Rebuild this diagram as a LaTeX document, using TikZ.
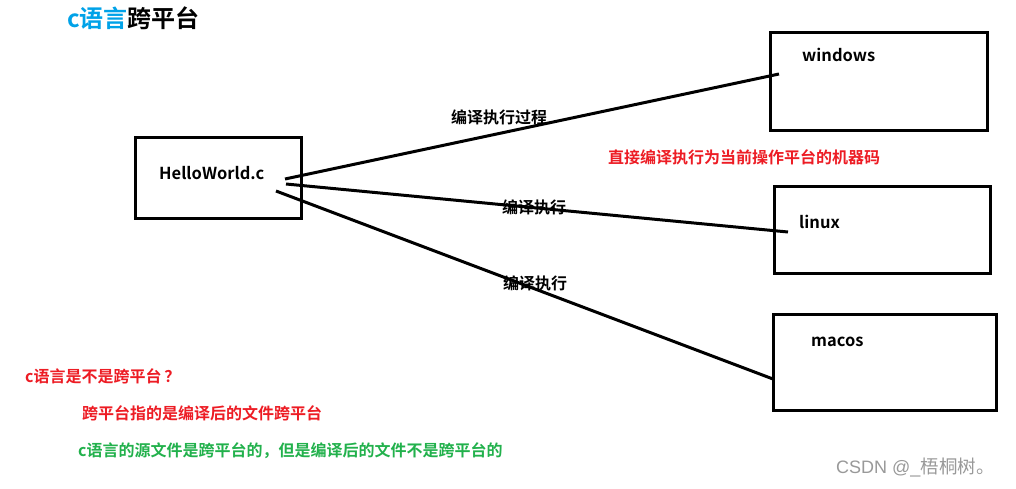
\documentclass[tikz,border=0pt]{standalone}
\usepackage{fontspec}
\newfontfamily\cjk{Noto Sans CJK SC}[BoldFont={* Bold}]
\newfontfamily\wmlatin{Liberation Sans}
\definecolor{pred}{HTML}{ED1C24}
\definecolor{pgreen}{HTML}{22B14C}
\definecolor{pblue}{HTML}{00A2E8}
\begin{document}
\begin{tikzpicture}[x=1pt,y=-1pt,
  box/.style={draw=black,line width=3pt,inner sep=0pt},
  txt/.style={anchor=west,inner sep=0pt,font=\cjk\bfseries\fontsize{16}{18}\selectfont},
  lat/.style={anchor=west,inner sep=0pt,font=\cjk\bfseries\fontsize{16.5}{18}\selectfont},
  conn/.style={line width=3pt,line cap=butt}]
\useasboundingbox[fill=white] (0,0) rectangle (1016,489);
% boxes
\node[box,minimum width=166pt,minimum height=80pt] (hwbox) at (218.5,178) {};
\node[box,minimum width=217pt,minimum height=98pt] (winbox) at (878.5,82) {};
\node[box,minimum width=216pt,minimum height=87pt] (linbox) at (882,229.5) {};
\node[box,minimum width=223pt,minimum height=96pt] (macbox) at (884.5,362) {};
% box texts
\node[lat] (hw) at (159,173) {HelloWorld.c};
\node[lat] (win) at (802,55) {windows};
\node[lat] (lin) at (799,222) {linux};
\node[lat] (mac) at (811,342) {macos};
% connector ends
\coordinate (s1) at (285,179);
\coordinate (s2) at (286,184);
\coordinate (s3) at (276,191);
\coordinate (e1) at (779,74);
\coordinate (e2) at (788,232);
\coordinate (e3) at (773,379);
\draw[conn] (s1) -- (e1);
\draw[conn] (s2) -- (e2);
\draw[conn] (s3) -- (e3);
% labels
\node[txt] (l1) at (451,117) {编译执行过程};
\node[txt] (l2) at (502,207) {编译执行};
\node[txt] (l3) at (503,283) {编译执行};
\node[txt,text=pred] (note) at (608,157) {直接编译执行为当前操作平台的机器码};
% title
\node[txt,font=\cjk\bfseries\fontsize{24}{27}\selectfont] (title) at (67,18) {\textcolor{pblue}{c语言}跨平台};
% bottom notes
\node[txt,text=pred] (q) at (25,376) {c语言是不是跨平台\,？};
\node[txt,text=pred] (a1) at (82,413) {跨平台指的是编译后的文件跨平台};
\node[txt,text=pgreen] (a2) at (78,451) {c语言的源文件是跨平台的，但是编译后的文件不是跨平台的};
% watermark
\node[anchor=west,inner sep=0pt,text=black!40,font=\cjk\fontsize{18.5}{20}\selectfont] (wm) at (836,468) {{\wmlatin\fontsize{18}{20}\selectfont CSDN @\_}梧桐树。};
\end{tikzpicture}
\end{document}
